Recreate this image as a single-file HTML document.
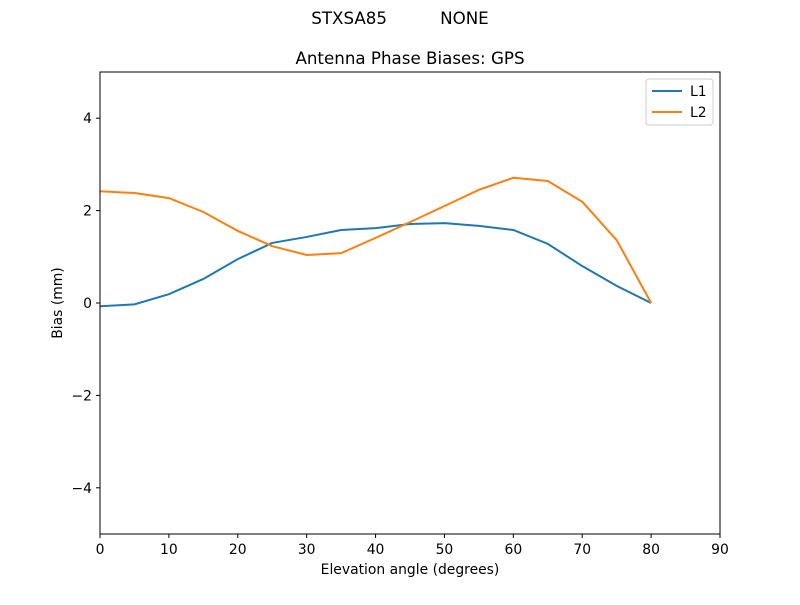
<!DOCTYPE html>
<html><head><meta charset="utf-8"><style>
body{margin:0;background:#fff;font-family:"Liberation Sans","DejaVu Sans",sans-serif}
</style></head><body>
<svg id="chart" width="800" height="600" xmlns="http://www.w3.org/2000/svg" font-family="DejaVu Sans, Liberation Sans, sans-serif">
<rect width="800" height="600" fill="#fff"/>
<text x="400" y="24" text-anchor="middle" font-size="16.7" xml:space="preserve">STXSA85          NONE</text>
<text x="410" y="64" text-anchor="middle" font-size="16.7">Antenna Phase Biases: GPS</text>
<g id="plot"></g>
<rect x="100" y="72" width="620" height="462" fill="none" stroke="#000" stroke-width="1"/>
<text x="410" y="574" text-anchor="middle" font-size="13.9">Elevation angle (degrees)</text>
<text transform="translate(62,303) rotate(-90)" text-anchor="middle" font-size="13.9">Bias (mm)</text>
<g>
<rect x="646" y="79" width="67" height="46" rx="3" fill="#fff" stroke="#ccc"/>
<g><line x1="652" y1="91" x2="682" y2="91" stroke="#1f77b4" stroke-width="2"/><text x="690" y="96" font-size="13.9">L1</text></g>
<g><line x1="652" y1="112" x2="682" y2="112" stroke="#ff7f0e" stroke-width="2"/><text x="690" y="117" font-size="13.9">L2</text></g>
</g>
</svg>
<script>
const elev=[0,5,10,15,20,25,30,35,40,45,50,55,60,65,70,75,80];
const l1=[-0.07,-0.03,0.19,0.52,0.95,1.3,1.43,1.58,1.62,1.71,1.73,1.67,1.58,1.28,0.8,0.37,0];
const l2=[2.42,2.38,2.27,1.97,1.56,1.23,1.04,1.08,1.41,1.75,2.1,2.45,2.71,2.64,2.19,1.36,0];
const xTicks=[0,10,20,30,40,50,60,70,80,90];
const yTicks=[-4,-2,0,2,4];
const sx=v=>100+v/90*620, sy=v=>303-v*46.2;
const NS="http://www.w3.org/2000/svg", g=document.getElementById('plot');
function mk(t,a){const e=document.createElementNS(NS,t);for(const k in a)e.setAttribute(k,a[k]);g.appendChild(e);return e;}
xTicks.forEach(v=>{
 const t=mk('line',{x1:sx(v),x2:sx(v),y1:534,y2:538,stroke:'#000'});
 
 
 const l=mk('text',{x:sx(v),y:554,'text-anchor':'middle','font-size':13.9});l.textContent=v;
 
 
});
yTicks.forEach(v=>{
 const t=mk('line',{x1:96,x2:100,y1:sy(v),y2:sy(v),stroke:'#000'});
 
 
 const l=mk('text',{x:92,y:sy(v)+5,'text-anchor':'end','font-size':13.9});l.textContent=v<0?'\u2212'+(-v):v;
 
 
});
[[l1,'#1f77b4','line-l1'],[l2,'#ff7f0e','line-l2']].forEach(([d,c,n])=>{
 const p=mk('polyline',{points:elev.map((x,i)=>sx(x)+','+sy(d[i])).join(' '),fill:'none',stroke:c,'stroke-width':2});
 
 
});
</script>
</body></html>
